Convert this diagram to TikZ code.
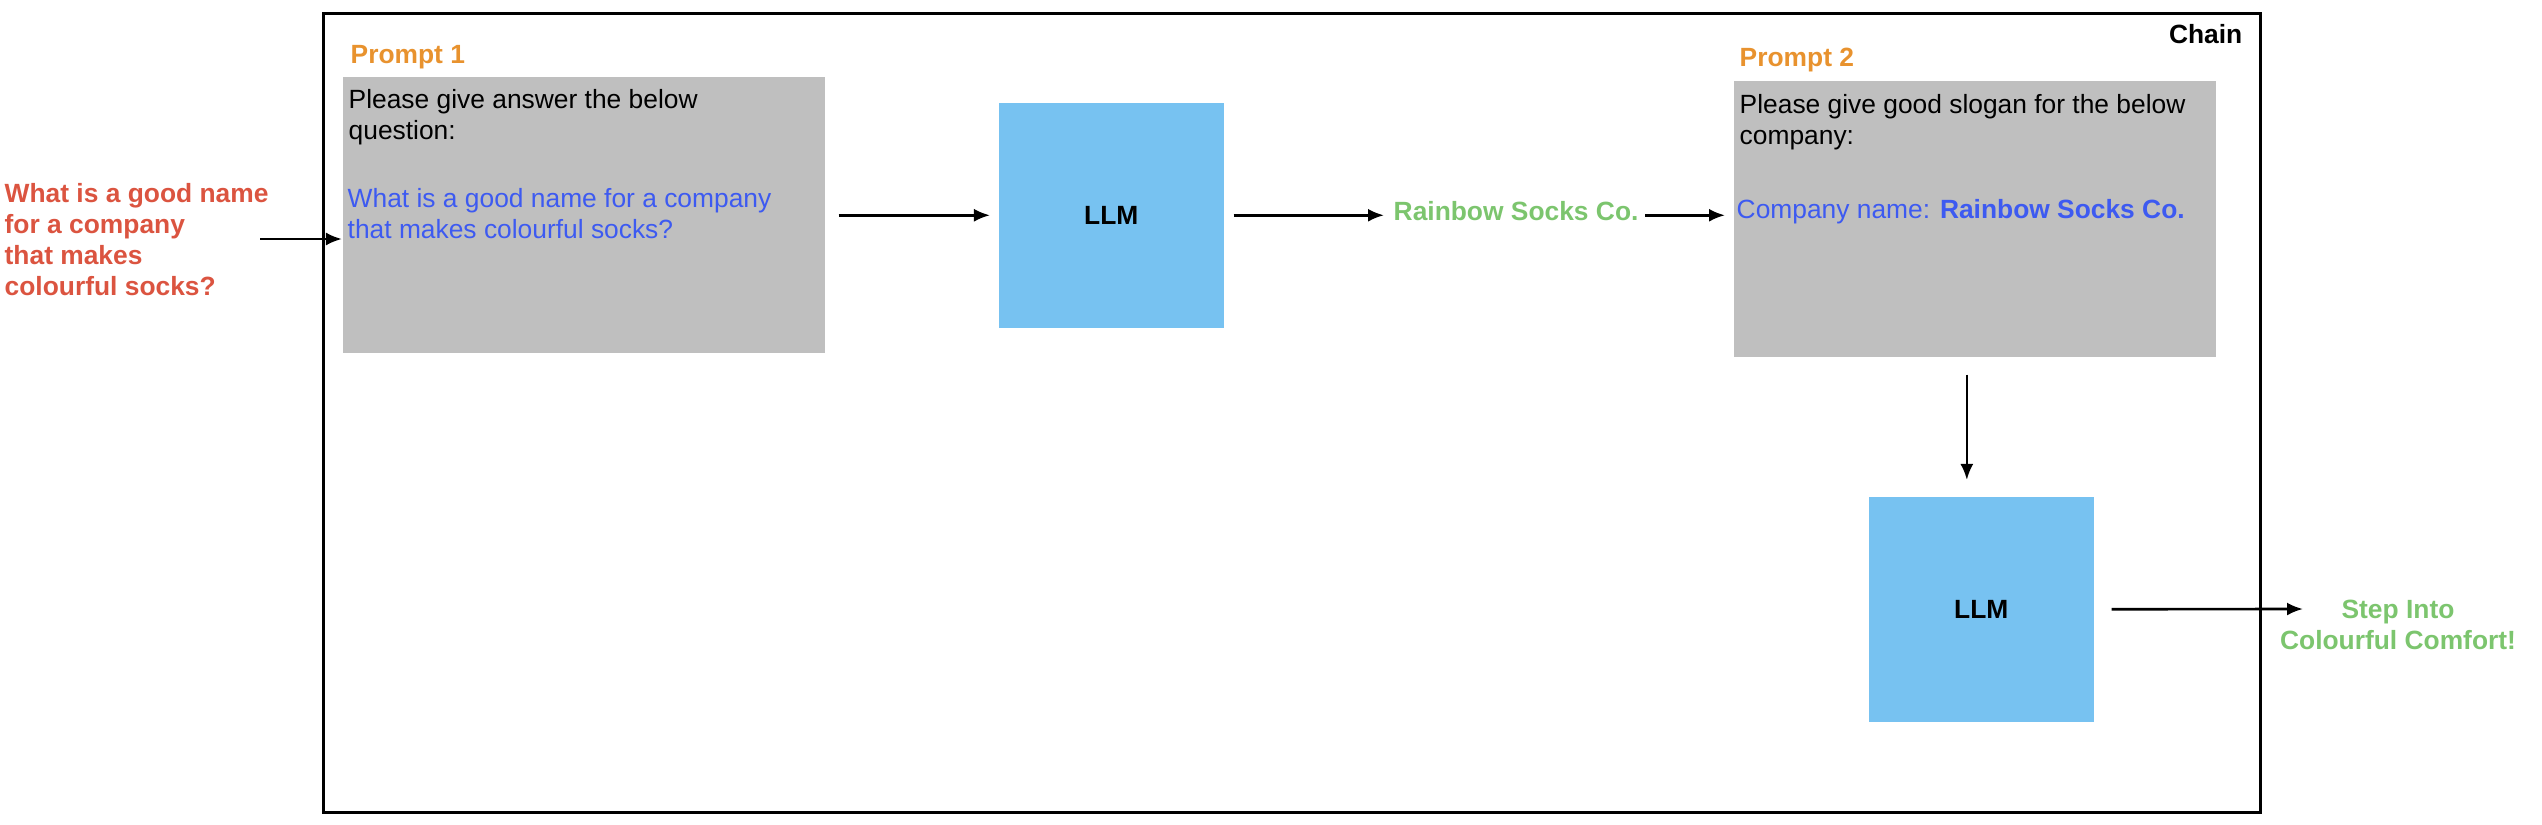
\documentclass[tikz,border=0pt]{standalone}
\usepackage{fontspec}
\setmainfont{Liberation Sans}
\usetikzlibrary{arrows.meta,positioning}
\definecolor{promptorange}{HTML}{E8922E}
\definecolor{questionred}{HTML}{DB5440}
\definecolor{textblue}{HTML}{3D5AF1}
\definecolor{answergreen}{HTML}{7CC56E}
\definecolor{boxgray}{HTML}{BFBFBF}
\definecolor{llmblue}{HTML}{77C2F1}
\begin{document}
\begin{tikzpicture}[x=0.01cm, y=-0.01cm,
    txt/.style={inner sep=0pt, align=left, font=\fontsize{7.5}{8.8}\selectfont},
    boldtxt/.style={txt, font=\fontsize{7.5}{8.8}\selectfont\bfseries},
    promptbox/.style={fill=boxgray, inner sep=0pt, anchor=north west,
        minimum width=4.82cm, minimum height=2.76cm},
    llmbox/.style={fill=llmblue, inner sep=0pt, anchor=north west,
        minimum width=2.25cm, minimum height=2.25cm, boldtxt},
    arr/.style={-{Latex[length=0.16cm,width=0.13cm]}, line width=0.75pt}]
    \useasboundingbox (0,0) rectangle (2542,824);

    \node[draw, line width=0.85pt, inner sep=0pt, anchor=north west,
        minimum width=19.36cm, minimum height=7.99cm] (chain) at (322,12) {};
    \node[boldtxt, anchor=base east] (chainlbl) at (2243,43) {Chain};

    \node[promptbox] (p1) at (342,76) {};
    \node[promptbox] (p2) at (1733,80) {};
    \node[llmbox] (llm1) at (998,102) {LLM};
    \node[llmbox] (llm2) at (1868,496) {LLM};

    \node[boldtxt, text=promptorange, anchor=base west] (p1lbl) at (350,63) {Prompt 1};
    \node[boldtxt, text=promptorange, anchor=base west] (p2lbl) at (1739,67) {Prompt 2};

    \node[txt, anchor=base west] (p1ask) at (348,139)
        {Please give answer the below\\question:};
    \node[txt, text=textblue, anchor=base west] (p1q) at (347,238)
        {What is a good name for a company\\that makes colourful socks?};
    \node[txt, anchor=base west] (p2ask) at (1739,144)
        {Please give good slogan for the below\\company:};
    \node[txt, text=textblue, anchor=base west] (p2name) at (1736,218)
        {Company name: \textbf{Rainbow Socks Co.}};

    \node[boldtxt, text=questionred, anchor=base west] (question) at (4,295)
        {What is a good name\\for a company\\that makes\\colourful socks?};
    \node[boldtxt, text=answergreen, anchor=base west] (ans1) at (1393,220)
        {Rainbow Socks Co.};
    \node[boldtxt, text=answergreen, align=center, anchor=base] (ans2) at (2398,649)
        {Step Into\\Colourful Comfort!};

    \coordinate (qend) at (260,239);
    \coordinate (sloganin) at (2303,609);

    \draw[arr] (qend) -- (qend -| p1.west);
    \draw[arr, shorten <=0.13cm, shorten >=0.08cm] (p1.east |- llm1.east) -- (llm1.west);
    \draw[arr, shorten <=0.09cm, shorten >=0.09cm] (llm1.east) -- (llm1.east -| ans1.west);
    \draw[arr, shorten <=0.06cm, shorten >=0.08cm] (ans1.east |- llm1.east) -- (llm1.east -| p2.west);
    \draw[arr, shorten <=0.17cm, shorten >=0.16cm] ([xshift=-0.08cm]p2.south)
        -- ([xshift=-0.08cm]p2.south |- llm2.north);
    \draw[arr, shorten <=0.17cm] (llm2.east) -- (sloganin);
\end{tikzpicture}
\end{document}
